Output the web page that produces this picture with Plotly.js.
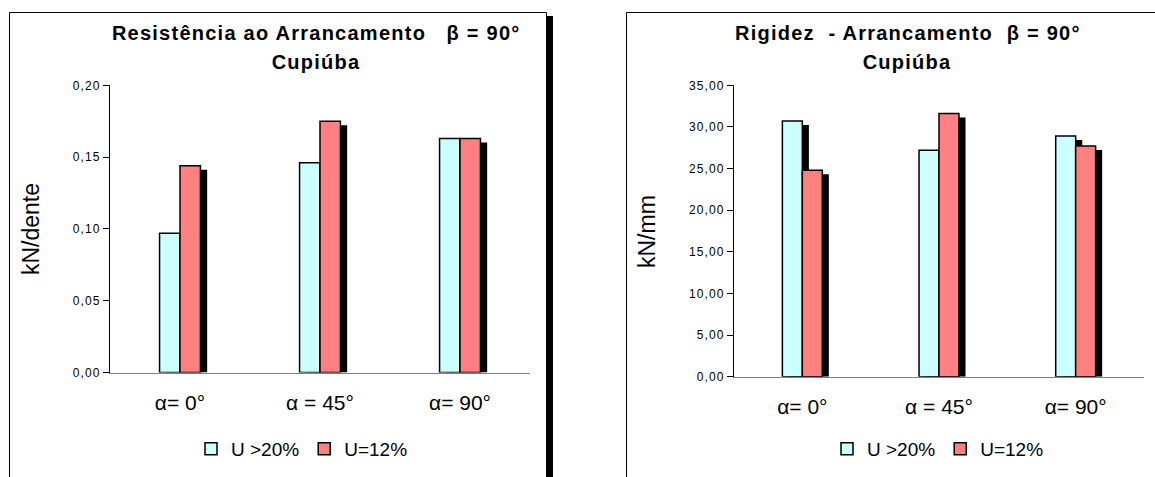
<!DOCTYPE html>
<html>
<head>
<meta charset="utf-8">
<script src="https://cdn.plot.ly/plotly-3.0.1.min.js"></script>
<style>
html,body{margin:0;padding:0;background:#fff;}
#chart{width:1155px;height:477px;}
#chart .ytick text, #chart .y2tick text {letter-spacing:1.1px;}
#chart g.annotation[data-index="0"] text, #chart g.annotation[data-index="1"] text,
#chart g.annotation[data-index="2"] text, #chart g.annotation[data-index="3"] text {letter-spacing:1.25px;}
</style>
</head>
<body>
<div id="chart"></div>
<script>
// ---- data ----
const categories = ['α= 0°', 'α = 45°', 'α= 90°'];
const seriesNames = ['U >20%', 'U=12%'];
const resistU20 = [0.097, 0.146, 0.163];
const resistU12 = [0.144, 0.175, 0.163];
const rigidU20 = [30.7, 27.2, 28.9];
const rigidU12 = [24.8, 31.6, 27.7];
const resistTicks = [0, 0.05, 0.10, 0.15, 0.20];
const rigidTicks = [0, 5, 10, 15, 20, 25, 30, 35];

// ---- style ----
const FONT = 'Liberation Sans, Arial, sans-serif';
const W = 1155, H = 477;
const colU20 = '#CCFFFF', colU12 = '#FF8080';
const barW = 0.146, shadowDx = 0.048, shadowDyPx = 4;
const leftPlot = {x0: 110, x1: 530, y0: 85.3, y1: 372.5};
const rightPlot = {x0: 734, x1: 1144, y0: 85.3, y1: 376.7};
const px = v => v / W, py = v => 1 - v / H;

function barTraces(xa, ya, u20, u12, yMax, plot, legendId) {
  const dy = shadowDyPx * yMax / (plot.y1 - plot.y0);
  const sh = arr => arr.map(v => v - dy);
  const common = {type: 'bar', x: categories, xaxis: xa, yaxis: ya, width: barW, hoverinfo: 'skip'};
  return [
    Object.assign({}, common, {y: sh(u20), offset: -barW + shadowDx, marker: {color: '#000', line: {width: 0}}, showlegend: false}),
    Object.assign({}, common, {y: sh(u12), offset: shadowDx, marker: {color: '#000', line: {width: 0}}, showlegend: false}),
    Object.assign({}, common, {y: u20, name: seriesNames[0], offset: -barW, marker: {color: colU20, line: {color: '#000', width: 1.5}}, legend: legendId}),
    Object.assign({}, common, {y: u12, name: seriesNames[1], offset: 0, marker: {color: colU12, line: {color: '#000', width: 1.5}}, legend: legendId})
  ];
}

const data = [].concat(
  barTraces('x', 'y', resistU20, resistU12, 0.2, leftPlot, 'legend'),
  barTraces('x2', 'y2', rigidU20, rigidU12, 35, rightPlot, 'legend2')
);

function xAxis(plot, anchor) {
  return {domain: [px(plot.x0), px(plot.x1)], anchor: anchor, type: 'category', range: [-0.5, 2.5],
    showline: true, linecolor: '#808080', linewidth: 1.5, ticks: '', showgrid: false, zeroline: false,
    tickfont: {family: FONT, size: 21, color: '#000'}, ticklabelstandoff: 11, fixedrange: true};
}
function yAxis(plot, anchor, range, ticks, fmt) {
  return {domain: [py(plot.y1), py(plot.y0)], anchor: anchor, range: range, tickvals: ticks, tickformat: fmt,
    showline: true, linecolor: '#000', linewidth: 1, ticks: 'outside', ticklen: 6, tickcolor: '#000',
    showgrid: false, zeroline: false, tickfont: {family: FONT, size: 12, color: '#000'}, fixedrange: true};
}

const nb = '\u00A0';
const ann = (text, x, y, size, bold, angle) => ({
  text: bold ? '<b>' + text + '</b>' : text, xref: 'paper', yref: 'paper', x: px(x), y: py(y),
  xanchor: 'center', yanchor: 'middle', showarrow: false, textangle: angle || 0,
  font: {family: FONT, size: size, color: '#000'}
});

const legendCommon = {orientation: 'h', xanchor: 'center', yanchor: 'middle',
  font: {family: FONT, size: 19, color: '#000'}, itemwidth: 30, tracegroupgap: 0, bgcolor: 'rgba(0,0,0,0)'};

const layout = {
  width: W, height: H, margin: {l: 0, r: 0, t: 0, b: 0},
  paper_bgcolor: '#fff', plot_bgcolor: '#fff', separators: ',.',
  barmode: 'overlay', showlegend: true,
  xaxis: xAxis(leftPlot, 'y'),
  yaxis: yAxis(leftPlot, 'x', [0, 0.2], resistTicks, '.2f'),
  xaxis2: xAxis(rightPlot, 'y2'),
  yaxis2: yAxis(rightPlot, 'x2', [0, 35], rigidTicks, '.2f'),
  legend: Object.assign({}, legendCommon, {x: px(302), y: py(449)}),
  legend2: Object.assign({}, legendCommon, {x: px(938), y: py(449)}),
  annotations: [
    ann('Resistência ao Arrancamento' + nb + nb + nb + 'β = 90°', 316, 33, 20, true),
    ann('Cupiúba', 316, 62, 20, true),
    ann('Rigidez' + nb + nb + '- Arrancamento' + nb + nb + 'β = 90°', 908, 33, 20, true),
    ann('Cupiúba', 907, 62, 20, true),
    ann('kN/dente', 30.5, 229.5, 23, false, -90),
    ann('kN/mm', 646.5, 231.5, 23, false, -90)
  ],
  shapes: [
    {type: 'rect', xref: 'paper', yref: 'paper', x0: px(9.5), x1: px(546.5), y0: py(12.5), y1: -0.05, line: {color: '#000', width: 1}, layer: 'below'},
    {type: 'rect', xref: 'paper', yref: 'paper', x0: px(547), x1: px(553), y0: py(16), y1: -0.05, fillcolor: '#000', line: {width: 0}},
    {type: 'rect', xref: 'paper', yref: 'paper', x0: px(626.5), x1: px(1170), y0: py(12.5), y1: -0.05, line: {color: '#000', width: 1}, layer: 'below'}
  ]
};

Plotly.newPlot('chart', data, layout, {staticPlot: true, displayModeBar: false});
</script>
</body>
</html>
